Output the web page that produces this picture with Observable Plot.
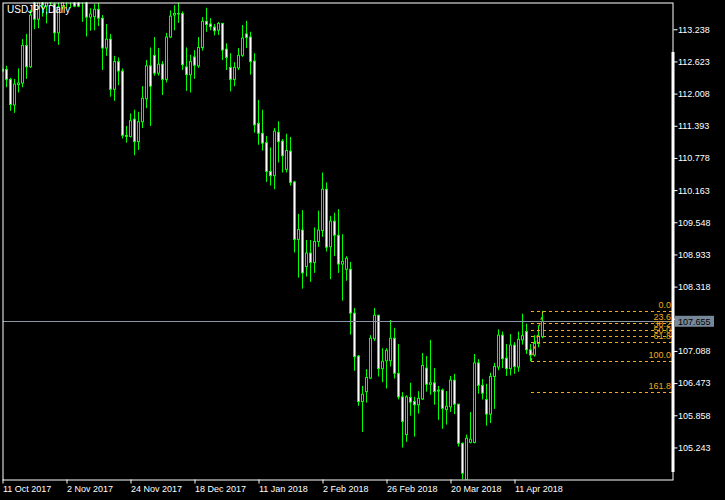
<!DOCTYPE html>
<html><head><meta charset="utf-8">
<script src="https://cdn.jsdelivr.net/npm/d3@7"></script>
<script src="https://cdn.jsdelivr.net/npm/@observablehq/plot@0.6"></script>
<style>
html,body{margin:0;padding:0;background:#000;}
#chart svg{display:block}
</style></head><body><div id="chart"></div>
<script>
const symbol = "USDJPY,Daily";
// daily bars, index 0 = 11 Oct 2017 ... index 135 = 20 Apr 2018
const open = [112.44,112.47,112.28,111.79,112.18,112.21,112.93,112.52,113.85,113.43,
113.90,113.68,114.10,113.72,113.17,113.67,114.10,114.00,114.10,113.95,
113.95,113.85,113.47,113.48,113.62,113.45,112.88,113.05,112.09,112.62,
112.44,111.21,111.19,111.52,111.09,111.47,111.91,112.54,112.74,112.40,
112.57,112.28,113.09,113.51,113.53,113.54,112.52,112.37,112.71,112.54,
112.89,113.39,113.34,113.28,113.22,113.35,112.86,112.51,112.28,112.50,
112.74,113.15,113.09,112.63,111.44,111.25,111.07,110.52,110.44,111.27,
111.10,110.56,110.91,110.32,109.22,109.40,108.70,108.96,108.78,109.18,
109.39,110.18,109.08,109.57,109.30,108.75,108.65,108.65,107.81,106.99,
106.12,106.31,106.57,107.32,107.77,106.75,106.90,106.90,107.33,106.66,
106.21,105.49,106.20,106.12,106.06,106.17,106.76,106.45,106.48,106.32,
106.34,105.97,106.02,106.53,106.07,105.32,104.62,105.34,105.34,106.86,
106.43,106.16,105.88,106.60,106.78,107.39,106.95,106.75,107.20,106.78,
107.30,107.46,107.11,107.01,107.23,107.36];
const high = [112.50,112.54,112.31,112.29,112.49,113.05,113.15,113.61,114.10,114.05,
114.05,114.30,114.45,113.80,113.75,114.25,114.30,114.40,114.73,114.10,
114.10,113.95,113.64,113.72,113.74,113.51,113.34,113.15,112.73,112.70,
112.49,111.39,111.63,111.70,111.66,112.15,112.65,112.89,113.09,112.88,
112.63,113.17,113.60,113.70,113.75,113.58,112.89,112.75,112.84,113.09,
113.47,113.65,113.45,113.34,113.38,113.36,112.97,112.78,112.61,112.88,
113.32,113.40,113.19,112.78,111.89,111.70,111.20,110.98,111.35,111.48,
111.14,111.24,111.18,110.34,109.71,109.78,109.21,109.21,109.45,109.77,
110.50,110.31,109.67,109.73,109.80,109.32,108.90,108.79,107.91,107.01,
106.42,106.74,107.39,107.91,107.78,107.14,107.14,107.68,107.53,107.22,
106.30,106.24,106.48,106.21,106.32,107.05,106.99,107.30,106.76,106.42,
106.37,106.32,106.61,106.65,106.07,105.34,105.49,105.92,107.03,106.93,
106.55,106.46,106.67,106.86,107.50,107.46,107.22,107.41,107.26,107.46,
107.80,107.61,107.22,107.39,107.58,107.855];
const low = [112.42,112.13,111.68,111.64,112.03,112.13,112.29,112.50,113.24,113.26,
113.48,113.35,113.70,113.01,112.94,113.62,113.65,113.64,113.66,113.66,
113.38,113.10,113.21,113.22,113.30,112.46,112.73,111.95,111.87,112.17,
111.15,111.07,111.17,110.83,110.93,111.35,111.73,111.39,112.35,112.35,
111.98,112.22,113.07,113.22,113.36,112.46,112.06,112.03,112.29,112.50,
112.83,113.19,113.22,113.12,113.13,112.65,112.46,112.05,112.15,112.46,
112.71,112.88,112.37,111.26,111.03,110.92,110.32,110.25,110.18,110.69,
110.50,110.50,110.25,108.97,108.49,108.28,108.51,108.41,108.58,109.08,
109.27,108.99,108.46,108.90,108.58,108.05,108.43,107.40,106.71,106.04,
105.54,106.10,106.55,107.28,106.60,106.49,106.37,106.79,106.56,106.16,
105.24,105.35,105.85,105.45,105.89,106.15,106.31,106.25,106.06,105.77,
105.60,105.68,105.92,105.88,105.26,104.63,104.60,105.32,105.32,106.27,
106.16,105.66,105.71,105.98,106.72,106.76,106.61,106.62,106.65,106.69,
107.21,107.03,106.89,106.98,107.16,107.33];
const close = [112.47,112.28,111.80,112.19,112.21,112.93,112.52,113.51,113.43,113.90,
113.70,114.10,113.75,113.17,113.67,114.10,114.00,114.05,113.68,113.68,
113.85,113.47,113.53,113.62,113.45,112.88,113.05,112.09,112.62,112.44,
111.21,111.19,111.49,111.09,111.47,111.92,112.54,112.15,112.40,112.57,
112.28,113.09,113.49,113.54,113.54,112.56,112.37,112.62,112.55,112.89,
113.39,113.33,113.29,113.21,113.35,112.84,112.70,112.28,112.51,112.74,
113.07,113.08,112.62,111.41,111.25,111.06,110.52,110.44,111.29,111.09,
110.82,110.92,110.31,109.22,109.41,108.58,108.96,108.78,109.18,109.40,
110.18,109.07,109.57,109.30,108.75,108.80,108.86,107.81,106.98,106.12,
106.26,106.58,107.33,107.77,106.75,106.89,107.10,107.33,106.66,106.21,
105.74,106.21,106.11,106.06,106.18,106.81,106.45,106.48,106.31,106.34,
105.99,106.03,106.53,106.07,105.32,104.75,105.42,105.40,106.86,106.43,
106.28,105.88,106.60,106.79,107.39,106.94,106.75,107.20,106.79,107.31,
107.38,107.11,107.01,107.23,107.37,107.655];

const xTickIndex = [0,16,32,48,64,80,96,112,128];
const xTickLabels = ["11 Oct 2017","2 Nov 2017","24 Nov 2017","18 Dec 2017","11 Jan 2018","2 Feb 2018","26 Feb 2018","20 Mar 2018","11 Apr 2018"];
const yTicks = [113.238,112.623,112.008,111.393,110.778,110.163,109.548,108.933,108.318,107.703,107.088,106.473,105.858,105.243];

const fibRatios = [0, 23.6, 38.2, 50, 61.8, 100, 161.8];
const fibHigh = 107.855, fibLow = 106.89;
const fibHighIdx = 135, fibLowIdx = 132;
const lastPrice = 107.655;

const candles = open.map((o, i) => ({i, o, h: high[i], l: low[i], c: close[i], bear: close[i] < o}));
const fib = fibRatios.map(r => ({label: r.toFixed(1), price: fibHigh - r / 100 * (fibHigh - fibLow)}));

const xMax = 167.5;
const green = "#00ff00";
const fibColor = "#f0a81e";

const chart = Plot.plot({
  width: 725, height: 500,
  marginLeft: 2.5, marginRight: 52.5, marginTop: 2.5, marginBottom: 20.5,
  style: {background: "#000", color: "#fff", fontFamily: "'Liberation Sans', Arial, sans-serif", fontSize: "9px"},
  x: {type: "linear", domain: [0, xMax], axis: null},
  y: {domain: [104.63, 113.75], axis: null},
  marks: [
    // wicks (1px)
    Plot.rect(candles, {x1: d => d.i - 0.125, x2: d => d.i + 0.125, y1: "l", y2: "h", fill: green, clip: true}),
    // body outline (3px wide)
    Plot.rect(candles, {x1: d => d.i - 0.375, x2: d => d.i + 0.375, y1: "o", y2: "c", fill: green, clip: true, insetTop: -0.5, insetBottom: -0.5}),
    // body interior: white for falling bars, black for rising bars
    Plot.rect(candles, {x1: d => d.i - 0.125, x2: d => d.i + 0.125, y1: "o", y2: "c",
      fill: d => d.bear ? "#ffffff" : "#000000", clip: true, insetTop: 0.5, insetBottom: 0.5}),
    Plot.ruleY([lastPrice], {stroke: "#8a98a8", shapeRendering: "crispEdges"}),
    Plot.ruleY(fib, {y: "price", x1: fibLowIdx, x2: xMax, stroke: fibColor, strokeDasharray: "3,3", shapeRendering: "crispEdges"}),
    Plot.link([0], {x1: fibHighIdx, y1: fibHigh, x2: fibLowIdx, y2: fibLow, stroke: fibColor, strokeDasharray: "3,3"}),
    Plot.text(fib, {y: "price", text: "label", frameAnchor: "right", textAnchor: "end", dx: -2, dy: -6.5, fill: fibColor}),
    Plot.text([symbol], {frameAnchor: "top-left", text: d => d, dx: 4, dy: 3, lineAnchor: "top", textAnchor: "start", fill: "#fff", fontSize: 10}),
    Plot.frame({stroke: "#fff"}),
    Plot.ruleX([xMax], {y1: 104.773, y2: 112.804, stroke: "#fff", strokeWidth: 3}),
    Plot.axisX(xTickIndex, {anchor: "bottom", label: null, tickSize: 4, tickPadding: 2, textAnchor: "start",
      tickFormat: d => xTickLabels[xTickIndex.indexOf(d)], fill: "#fff", stroke: "#fff"}),
    Plot.axisY(yTicks, {anchor: "right", label: null, tickSize: 4, tickPadding: 1, tickFormat: d => d.toFixed(3), fill: "#fff", stroke: "#fff"}),
    Plot.rect([lastPrice], {x1: xMax + 0.625, x2: xMax + 10.375, y1: d => d + 0.105, y2: d => d - 0.105, fill: "#778899"}),
    Plot.text([lastPrice], {x: xMax, y: d => d, text: d => d.toFixed(3), textAnchor: "start", dx: 5, fill: "#000"})
  ]
});
document.getElementById("chart").appendChild(chart);
</script></body></html>
